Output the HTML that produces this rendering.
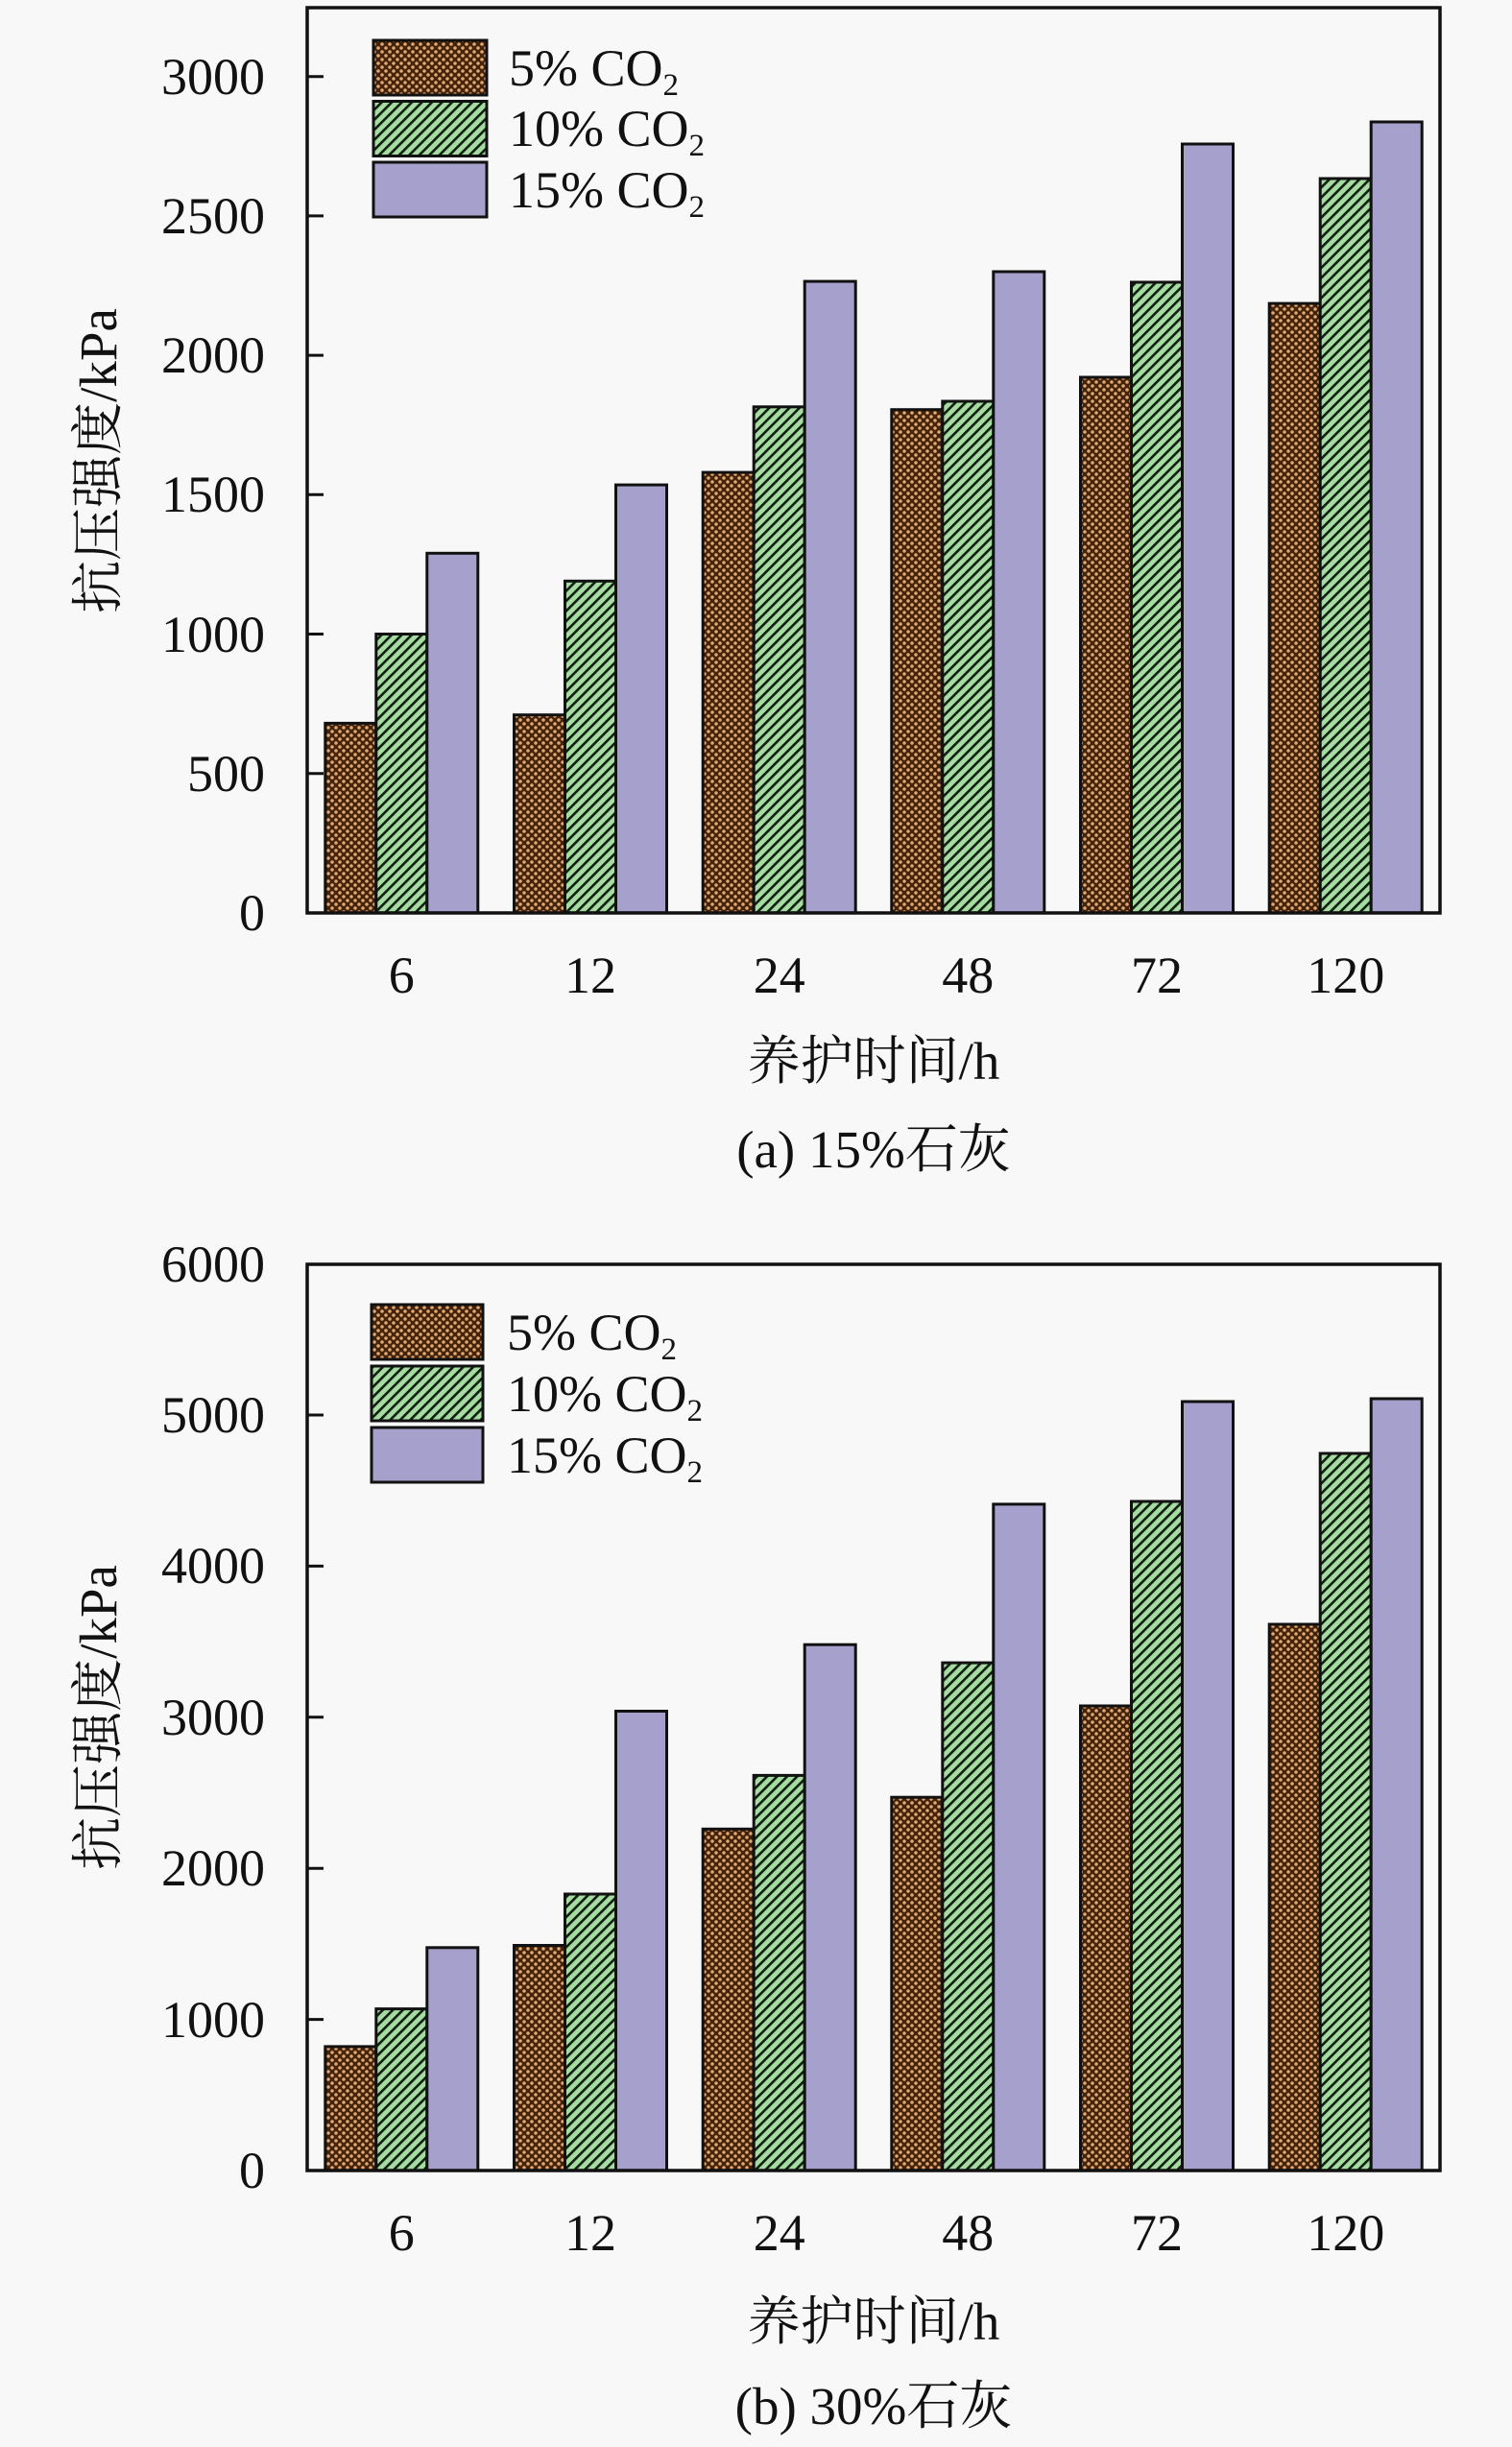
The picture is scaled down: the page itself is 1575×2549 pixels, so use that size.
<!DOCTYPE html>
<html>
<head>
<meta charset="utf-8">
<style>
html,body{margin:0;padding:0;background:#f8f8f8;}
svg{display:block;}
text{font-family:"Liberation Serif","Noto Serif CJK SC","Noto Sans CJK SC",serif;fill:#111;}
</style>
</head>
<body>
<svg width="1575" height="2549" viewBox="0 0 1575 2549" xmlns="http://www.w3.org/2000/svg">
<defs>
  <pattern id="dots" width="8" height="8" patternUnits="userSpaceOnUse">
    <rect width="8" height="8" fill="#42230c"/>
    <circle cx="2" cy="2" r="1.75" fill="#e6a872"/>
    <circle cx="6" cy="6" r="1.75" fill="#e6a872"/>
  </pattern>
  <pattern id="hatch" width="7.4" height="7.4" patternUnits="userSpaceOnUse" patternTransform="rotate(45)">
    <rect width="7.4" height="7.4" fill="#a6dba2"/>
    <rect x="0" y="0" width="2.6" height="7.4" fill="#0f1f0f"/>
  </pattern>
</defs>
<rect x="0" y="0" width="1575" height="2549" fill="#f8f8f8"/>

<!-- ============ TOP CHART ============ -->
<g stroke="#111" stroke-width="3">
  <rect x="338.8" y="753.4" width="53" height="197.5" fill="url(#dots)"/>
  <rect x="391.8" y="660.5" width="53" height="290.4" fill="url(#hatch)"/>
  <rect x="444.8" y="576.3" width="53" height="374.6" fill="#a6a0cc"/>
  <rect x="535.5" y="744.7" width="53" height="206.2" fill="url(#dots)"/>
  <rect x="588.5" y="605.3" width="53" height="345.6" fill="url(#hatch)"/>
  <rect x="641.5" y="505.1" width="53" height="445.8" fill="#a6a0cc"/>
  <rect x="732.2" y="492.1" width="53" height="458.8" fill="url(#dots)"/>
  <rect x="785.2" y="423.8" width="53" height="527.1" fill="url(#hatch)"/>
  <rect x="838.2" y="293.1" width="53" height="657.8" fill="#a6a0cc"/>
  <rect x="928.8" y="426.7" width="53" height="524.2" fill="url(#dots)"/>
  <rect x="981.8" y="418.0" width="53" height="532.9" fill="url(#hatch)"/>
  <rect x="1034.8" y="283.0" width="53" height="667.9" fill="#a6a0cc"/>
  <rect x="1125.5" y="393.0" width="53" height="557.9" fill="url(#dots)"/>
  <rect x="1178.5" y="294.0" width="53" height="656.9" fill="url(#hatch)"/>
  <rect x="1231.5" y="150.0" width="53" height="800.9" fill="#a6a0cc"/>
  <rect x="1322.2" y="316.1" width="53" height="634.8" fill="url(#dots)"/>
  <rect x="1375.2" y="186.0" width="53" height="764.9" fill="url(#hatch)"/>
  <rect x="1428.2" y="127.0" width="53" height="823.9" fill="#a6a0cc"/>
</g>
<rect x="320" y="8" width="1180" height="943" fill="none" stroke="#111" stroke-width="3.5"/>
<g stroke="#111" stroke-width="3">
  <line x1="320" y1="805.7" x2="337" y2="805.7"/>
  <line x1="320" y1="660.5" x2="337" y2="660.5"/>
  <line x1="320" y1="515.3" x2="337" y2="515.3"/>
  <line x1="320" y1="370.1" x2="337" y2="370.1"/>
  <line x1="320" y1="224.9" x2="337" y2="224.9"/>
  <line x1="320" y1="79.7" x2="337" y2="79.7"/>
</g>
<g font-size="54" text-anchor="end">
  <text x="276" y="969">0</text>
  <text x="276" y="824">500</text>
  <text x="276" y="679">1000</text>
  <text x="276" y="533">1500</text>
  <text x="276" y="388">2000</text>
  <text x="276" y="243">2500</text>
  <text x="276" y="98">3000</text>
</g>
<g font-size="54" text-anchor="middle">
  <text x="418.3" y="1034">6</text>
  <text x="615" y="1034">12</text>
  <text x="811.7" y="1034">24</text>
  <text x="1008.3" y="1034">48</text>
  <text x="1205" y="1034">72</text>
  <text x="1401.7" y="1034">120</text>
</g>
<text x="910" y="1124" font-size="55" text-anchor="middle">养护时间/h</text>
<text x="910" y="1216" font-size="55" text-anchor="middle">(a) 15%石灰</text>
<text transform="translate(121,480) rotate(-90)" font-size="55" text-anchor="middle">抗压强度/kPa</text>
<g stroke="#111" stroke-width="3">
  <rect x="389" y="42" width="118" height="57" fill="url(#dots)"/>
  <rect x="389" y="105.5" width="118" height="57" fill="url(#hatch)"/>
  <rect x="389" y="169" width="118" height="57" fill="#a6a0cc"/>
</g>
<g font-size="54">
  <text x="530" y="89">5% CO<tspan font-size="33" dy="10">2</tspan></text>
  <text x="530" y="152">10% CO<tspan font-size="33" dy="10">2</tspan></text>
  <text x="530" y="216">15% CO<tspan font-size="33" dy="10">2</tspan></text>
</g>

<!-- ============ BOTTOM CHART ============ -->
<g stroke="#111" stroke-width="3">
  <rect x="338.8" y="2131.9" width="53" height="129.1" fill="url(#dots)"/>
  <rect x="391.8" y="2092.6" width="53" height="168.4" fill="url(#hatch)"/>
  <rect x="444.8" y="2028.8" width="53" height="232.2" fill="#a6a0cc"/>
  <rect x="535.5" y="2026.5" width="53" height="234.5" fill="url(#dots)"/>
  <rect x="588.5" y="1973.0" width="53" height="288" fill="url(#hatch)"/>
  <rect x="641.5" y="1782.5" width="53" height="478.5" fill="#a6a0cc"/>
  <rect x="732.2" y="1905.3" width="53" height="355.7" fill="url(#dots)"/>
  <rect x="785.2" y="1849.4" width="53" height="411.6" fill="url(#hatch)"/>
  <rect x="838.2" y="1713.2" width="53" height="547.8" fill="#a6a0cc"/>
  <rect x="928.8" y="1872.2" width="53" height="388.8" fill="url(#dots)"/>
  <rect x="981.8" y="1732.1" width="53" height="528.9" fill="url(#hatch)"/>
  <rect x="1034.8" y="1566.9" width="53" height="694.1" fill="#a6a0cc"/>
  <rect x="1125.5" y="1777.0" width="53" height="484" fill="url(#dots)"/>
  <rect x="1178.5" y="1564.0" width="53" height="697" fill="url(#hatch)"/>
  <rect x="1231.5" y="1460.0" width="53" height="801" fill="#a6a0cc"/>
  <rect x="1322.2" y="1692.0" width="53" height="569" fill="url(#dots)"/>
  <rect x="1375.2" y="1514.0" width="53" height="747" fill="url(#hatch)"/>
  <rect x="1428.2" y="1457.0" width="53" height="804" fill="#a6a0cc"/>
</g>
<rect x="320" y="1317" width="1180" height="944" fill="none" stroke="#111" stroke-width="3.5"/>
<g stroke="#111" stroke-width="3">
  <line x1="320" y1="2103.6" x2="337" y2="2103.6"/>
  <line x1="320" y1="1946.2" x2="337" y2="1946.2"/>
  <line x1="320" y1="1788.8" x2="337" y2="1788.8"/>
  <line x1="320" y1="1631.4" x2="337" y2="1631.4"/>
  <line x1="320" y1="1474" x2="337" y2="1474"/>
</g>
<g font-size="54" text-anchor="end">
  <text x="276" y="2279">0</text>
  <text x="276" y="2122">1000</text>
  <text x="276" y="1964">2000</text>
  <text x="276" y="1807">3000</text>
  <text x="276" y="1649">4000</text>
  <text x="276" y="1492">5000</text>
  <text x="276" y="1335">6000</text>
</g>
<g font-size="54" text-anchor="middle">
  <text x="418.3" y="2344">6</text>
  <text x="615" y="2344">12</text>
  <text x="811.7" y="2344">24</text>
  <text x="1008.3" y="2344">48</text>
  <text x="1205" y="2344">72</text>
  <text x="1401.7" y="2344">120</text>
</g>
<text x="910" y="2437" font-size="55" text-anchor="middle">养护时间/h</text>
<text x="910" y="2525" font-size="55" text-anchor="middle">(b) 30%石灰</text>
<text transform="translate(121,1789) rotate(-90)" font-size="55" text-anchor="middle">抗压强度/kPa</text>
<g stroke="#111" stroke-width="3">
  <rect x="387" y="1359" width="116" height="57" fill="url(#dots)"/>
  <rect x="387" y="1423" width="116" height="57" fill="url(#hatch)"/>
  <rect x="387" y="1487" width="116" height="57" fill="#a6a0cc"/>
</g>
<g font-size="54">
  <text x="528" y="1406">5% CO<tspan font-size="33" dy="10">2</tspan></text>
  <text x="528" y="1470">10% CO<tspan font-size="33" dy="10">2</tspan></text>
  <text x="528" y="1534">15% CO<tspan font-size="33" dy="10">2</tspan></text>
</g>
</svg>
</body>
</html>
